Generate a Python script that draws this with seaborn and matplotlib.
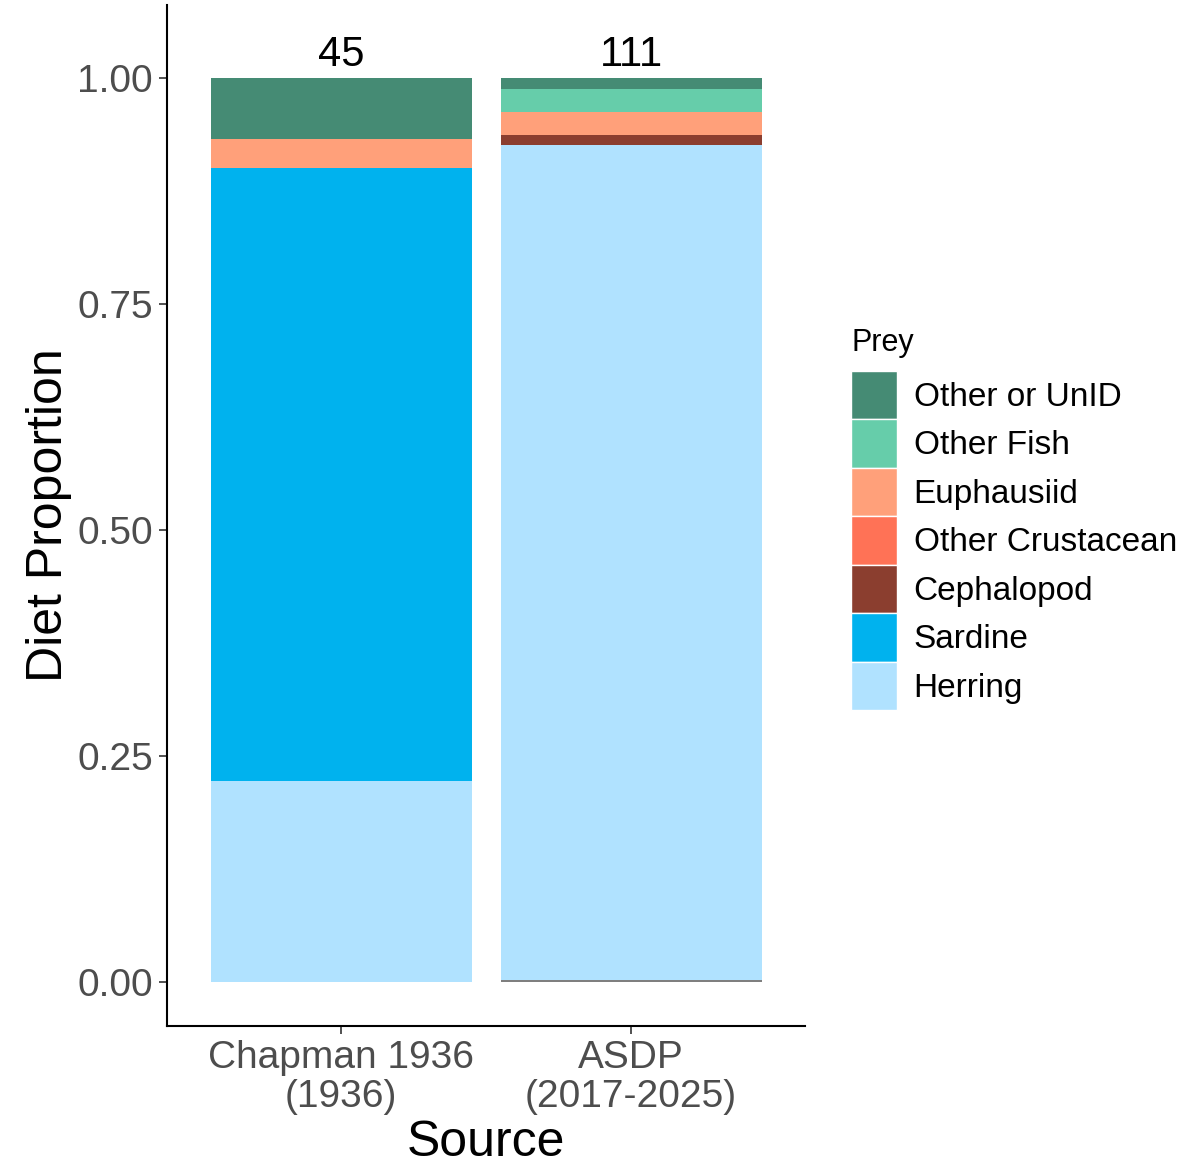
import pandas as pd
import matplotlib.pyplot as plt
import seaborn as sns
from matplotlib.patches import Patch

sources = ["Chapman 1936\n(1936)", "ASDP\n(2017-2025)"]
sample_sizes = [45, 111]
prey = ["Other or UnID", "Other Fish", "Euphausiid", "Other Crustacean",
        "Cephalopod", "Sardine", "Herring", "NA"]
colors = ["#458B74", "#66CDAA", "#FFA07A", "#FF7256",
          "#8B3E2F", "#00B2EE", "#B0E2FF", "#7F7F7F"]
chapman = [0.067, 0.0, 0.033, 0.0, 0.0, 0.678, 0.222, 0.0]
asdp = [0.0125, 0.0255, 0.025, 0.0, 0.011, 0.0, 0.924, 0.002]

rows = []
for src, vals in zip(sources, [chapman, asdp]):
    for p, v in zip(prey, vals):
        rows.append({"Source": src, "Prey": p, "prop": v})
df = pd.DataFrame(rows)
df["Source"] = pd.Categorical(df["Source"], categories=sources)

sns.set_style("white")
plt.rcParams["font.family"] = ["Liberation Sans", "DejaVu Sans"]
plt.rcParams["text.color"] = "black"
plt.rcParams["axes.labelcolor"] = "black"

fig = plt.figure(figsize=(12.04, 11.68), dpi=100)
ax = fig.add_axes([0.1387, 0.1216, 0.53, 0.8741])

sns.histplot(data=df, x="Source", weights="prop", hue="Prey", hue_order=prey,
             palette=dict(zip(prey, colors)), multiple="stack", discrete=True,
             shrink=0.9, alpha=1, linewidth=0, legend=False, ax=ax)

for i, n in enumerate(sample_sizes):
    ax.text(i, 1.025, str(n), ha="center", va="center", fontsize=30, color="black")

ax.set_xlim(-0.6, 1.6)
ax.set_ylim(-0.0487, 1.0807)
ax.set_xticks(range(len(sources)))
ax.set_xticklabels(sources, linespacing=1.1)
ax.set_yticks([0, 0.25, 0.5, 0.75, 1.0])
ax.set_yticklabels(["0.00", "0.25", "0.50", "0.75", "1.00"])
ax.tick_params(axis="both", labelsize=28, labelcolor="#4D4D4D", length=6,
               width=1.2, color="#333333", left=True, bottom=True, pad=4)
ax.set_xlabel("Source", fontsize=36, labelpad=4, color="black")
ax.set_ylabel("Diet Proportion", fontsize=36, labelpad=4, color="black")
for side in ["top", "right"]:
    ax.spines[side].set_visible(False)
for side in ["left", "bottom"]:
    ax.spines[side].set_color("black")
    ax.spines[side].set_linewidth(1.5)

handles = [Patch(facecolor=c, edgecolor="white", linewidth=1, label=p)
           for p, c in zip(prey[:-1], colors[:-1])]
fig.text(852 / 1204, 1 - 343 / 1168, "Prey", fontsize=22, va="center", ha="left",
         color="black")
leg = fig.legend(handles=handles, loc="upper left",
                 bbox_to_anchor=(851 / 1204, 1 - 371 / 1168), frameon=False,
                 fontsize=24, borderpad=0, borderaxespad=0,
                 labelspacing=0, handlelength=1.38, handleheight=1.86,
                 handletextpad=0.5, labelcolor="black")

fig.savefig("out.png", dpi=100)
